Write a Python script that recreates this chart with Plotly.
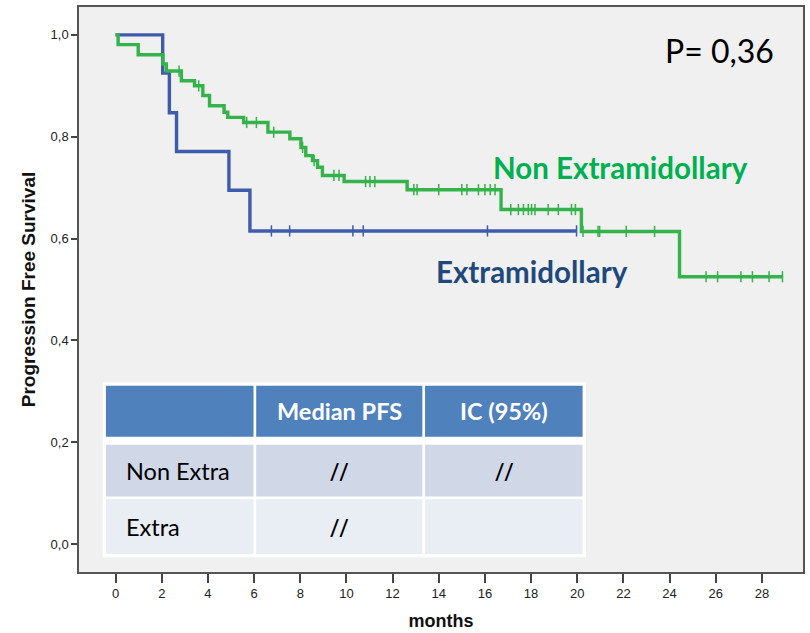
import plotly.graph_objects as go

# ---- Kaplan-Meier data (months, survival after each event) ----
non_extra_event_months = [0.11, 0.98, 2.05, 2.20, 2.85, 3.42, 3.78, 4.07, 4.70, 4.86,
                          5.55, 6.60, 7.55, 8.03, 8.24, 8.53, 8.75, 8.96, 9.90, 12.63,
                          16.70, 20.18, 24.43]
non_extra_survival = [0.981, 0.961, 0.943, 0.929, 0.910, 0.900, 0.881, 0.861, 0.848, 0.838,
                      0.828, 0.809, 0.796, 0.779, 0.763, 0.753, 0.740, 0.724, 0.712, 0.696,
                      0.657, 0.614, 0.525]
non_extra_censored = [2.75, 3.60, 5.68, 6.10, 6.85, 8.10, 8.60, 9.46, 9.68, 10.83, 11.02,
                      11.23, 12.92, 13.06, 14.00, 15.00, 15.22, 15.72, 16.00, 16.23, 16.44,
                      17.12, 17.45, 17.67, 17.88, 18.02, 18.17, 18.74, 19.18, 19.75, 19.92,
                      20.25, 20.90, 20.97, 22.12, 23.35, 25.58, 26.08, 27.09, 27.59, 28.31,
                      28.89]
non_extra_end = 28.89

extra_event_months = [2.04, 2.33, 2.64, 4.91, 5.82]
extra_survival = [0.925, 0.847, 0.771, 0.695, 0.615]
extra_censored = [6.75, 7.54, 10.28, 10.73, 16.11, 19.97]
extra_end = 19.97

x_tick_values = list(range(0, 29, 2))
x_tick_labels = [str(v) for v in x_tick_values]
y_tick_values = [0.0, 0.2, 0.4, 0.6, 0.8, 1.0]
y_tick_labels = ["0,0", "0,2", "0,4", "0,6", "0,8", "1,0"]

table_header = ["", "Median PFS", "IC (95%)"]
table_rows = [["Non Extra", "//", "//"],
              ["Extra", "//", ""]]

p_value_text = "P= 0,36"

# ---- colours ----
GREEN_LINE = "#33b34a"
BLUE_LINE = "#3f5bab"
GREEN_TEXT = "#00b050"
BLUE_TEXT = "#1f497d"
HEAD_FILL = "#4f81bd"
ROW_FILLS = ["#d0d8e8", "#e9edf4"]

W, H = 810, 633
M_L, M_R, M_T, M_B = 79, 5, 6, 60
PW, PH = W - M_L - M_R, H - M_T - M_B


def px_x(px):
    return (px - M_L) / PW


def px_y(py):
    return (H - M_B - py) / PH


def step_points(times, surv, end):
    xs, ys = [0.0], [1.0]
    for t, s in zip(times, surv):
        xs.append(t)
        ys.append(s)
    xs.append(end)
    ys.append(surv[-1])
    return xs, ys


def surv_at(t, times, surv):
    s = 1.0
    for et, es in zip(times, surv):
        if et <= t:
            s = es
    return s


fig = go.Figure()

for times, surv, cens, end, color in [
    (extra_event_months, extra_survival, extra_censored, extra_end, BLUE_LINE),
    (non_extra_event_months, non_extra_survival, non_extra_censored, non_extra_end, GREEN_LINE),
]:
    xs, ys = step_points(times, surv, end)
    fig.add_trace(go.Scatter(x=xs, y=ys, mode="lines", line=dict(color=color, width=3.4, shape="hv"),
                             hoverinfo="skip", showlegend=False))
    fig.add_trace(go.Scatter(x=cens, y=[surv_at(c, times, surv) for c in cens], mode="markers",
                             marker=dict(symbol="line-ns-open", size=8, color=color,
                                         line=dict(color=color, width=1.5)),
                             hoverinfo="skip", showlegend=False))

axis_common = dict(showgrid=False, zeroline=False, showline=True, mirror=True,
                   linecolor="#555555", linewidth=1.5, ticks="outside",
                   tickcolor="#444444", tickwidth=1.5,
                   tickfont=dict(family="Liberation Sans Narrow, Liberation Sans, Arial",
                                 size=13, color="#222222"))

fig.update_xaxes(range=[-1.585, 29.78], tickvals=x_tick_values, ticktext=x_tick_labels,
                 ticklen=9, title=dict(text="<b>months</b>", standoff=14,
                                       font=dict(family="Liberation Sans, Arial", size=18,
                                                 color="#111111")),
                 **axis_common)
fig.update_yaxes(range=[-0.0548, 1.0548], tickvals=y_tick_values, ticktext=y_tick_labels,
                 ticklen=6, title=dict(text="<b>Progression Free Survival</b>", standoff=10,
                                       font=dict(family="Liberation Sans, Arial", size=19,
                                                 color="#111111")),
                 **axis_common)

shapes = []
annotations = []

# table: white backing, then cells
shapes.append(dict(type="rect", xref="paper", yref="paper", layer="above",
                   x0=px_x(102.7), x1=px_x(587.3), y0=px_y(558.3), y1=px_y(382.7),
                   fillcolor="white", line=dict(width=0)))
col_edges = [(106, 254), (256.7, 423.3), (426, 584)]
row_edges = [(386, 437.3), (445.3, 497.3), (500, 555)]
row_fills = [HEAD_FILL] + ROW_FILLS
for r, (y0, y1) in enumerate(row_edges):
    for (x0, x1) in col_edges:
        shapes.append(dict(type="rect", xref="paper", yref="paper", layer="above",
                           x0=px_x(x0), x1=px_x(x1), y0=px_y(y1), y1=px_y(y0),
                           fillcolor=row_fills[r], line=dict(width=0)))

CAL = "Lato, Open Sans, Liberation Sans"
all_rows = [table_header] + table_rows
for r, row in enumerate(all_rows):
    yc = (row_edges[r][0] + row_edges[r][1]) / 2
    for c, txt in enumerate(row):
        if not txt:
            continue
        if r == 0:
            font = dict(family=CAL, size=23.5, color="white")
            txt = "<b>" + txt + "</b>"
        elif c == 0:
            font = dict(family=CAL, size=23.5, color="black")
        else:
            # the slash marks are set a little larger, as in the slide font
            font = dict(family="Open Sans, Lato", size=25, color="black")
        if c == 0:
            annotations.append(dict(xref="paper", yref="paper", x=px_x(124), y=px_y(yc),
                                    text=txt, showarrow=False, xanchor="left",
                                    yanchor="middle", font=font))
        else:
            xc = (col_edges[c][0] + col_edges[c][1]) / 2
            annotations.append(dict(xref="paper", yref="paper", x=px_x(xc), y=px_y(yc),
                                    text=txt, showarrow=False, xanchor="center",
                                    yanchor="middle", font=font))

annotations.append(dict(xref="paper", yref="paper", x=px_x(492), y=px_y(167),
                        text="<b>Non Extramidollary</b>", showarrow=False, xanchor="left",
                        yanchor="middle", font=dict(family=CAL, size=29.5, color=GREEN_TEXT)))
annotations.append(dict(xref="paper", yref="paper", x=px_x(435), y=px_y(271),
                        text="<b>Extramidollary</b>", showarrow=False, xanchor="left",
                        yanchor="middle", font=dict(family=CAL, size=29.5, color=BLUE_TEXT)))
annotations.append(dict(xref="paper", yref="paper", x=px_x(665), y=px_y(50),
                        text=p_value_text, showarrow=False, xanchor="left",
                        yanchor="middle", font=dict(family=CAL, size=32, color="black")))

fig.update_layout(width=W, height=H, margin=dict(l=M_L, r=M_R, t=M_T, b=M_B),
                  paper_bgcolor="white", plot_bgcolor="#f0f0f0",
                  shapes=shapes, annotations=annotations, showlegend=False)

fig.write_html("out.html")
